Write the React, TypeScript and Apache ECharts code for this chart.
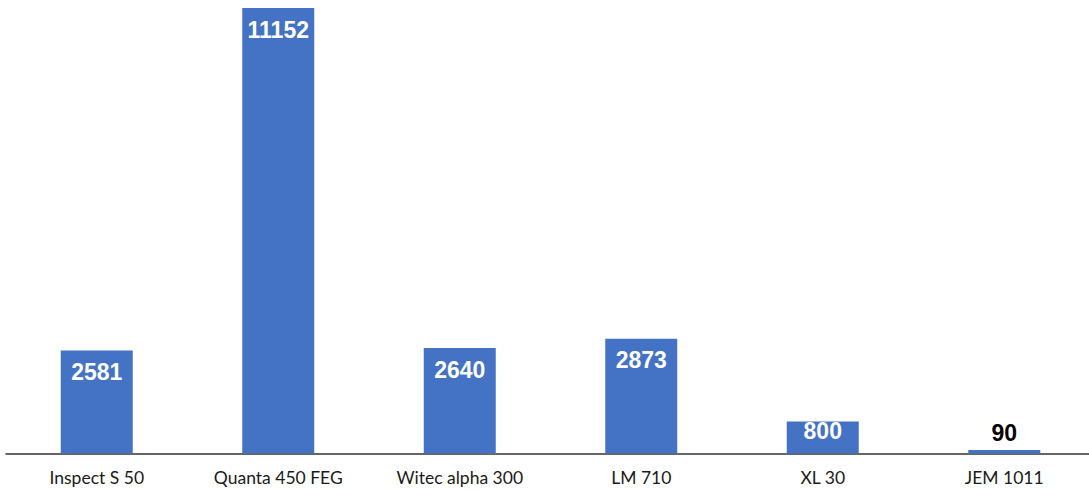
import React, { useEffect, useRef } from "react";
import * as echarts from "echarts";

const categories = ["Inspect S 50", "Quanta 450 FEG", "Witec alpha 300", "LM 710", "XL 30", "JEM 1011"];
const values = [2581, 11152, 2640, 2873, 800, 90];

export default function App() {
  const ref = useRef<HTMLDivElement>(null);
  useEffect(() => {
    const chart = echarts.init(ref.current!, null, { renderer: "svg" });
    const data = values.map((v) => {
      if (v < 300) {
        return { value: v, label: { position: "top", color: "#000", distance: 5 } };
      }
      if (v < 1000) {
        return { value: v, label: { distance: -2 } };
      }
      return { value: v };
    });
    chart.setOption({
      animation: false,
      grid: { left: 6, right: 1, top: 8, bottom: 36.5, containLabel: false },
      xAxis: {
        type: "category",
        data: categories,
        axisLine: { show: true, lineStyle: { color: "#333", width: 1.5 } },
        axisTick: { show: false },
        axisLabel: {
          color: "#1a1a1a",
          fontFamily: "Lato, 'Open Sans', sans-serif",
          fontSize: 17.5,
          margin: 15,
          interval: 0,
        },
      },
      yAxis: {
        type: "value",
        min: 0,
        max: 11152,
        show: false,
        splitLine: { show: false },
      },
      series: [
        {
          type: "bar",
          data,
          barWidth: 72,
          itemStyle: { color: "#4472C4" },
          label: {
            show: true,
            position: "insideTop",
            distance: 10,
            color: "#fff",
            fontWeight: "bold",
            fontSize: 23,
            fontFamily: "'Liberation Sans', Arial, sans-serif",
          },
        },
      ],
    });
    return () => chart.dispose();
  }, []);
  return (
    <div style={{ position: "fixed", left: 0, top: 0, width: 1089, height: 490, overflow: "hidden", background: "#fff" }}>
      <div ref={ref} style={{ width: 1096, height: 490 }} />
    </div>
  );
}
